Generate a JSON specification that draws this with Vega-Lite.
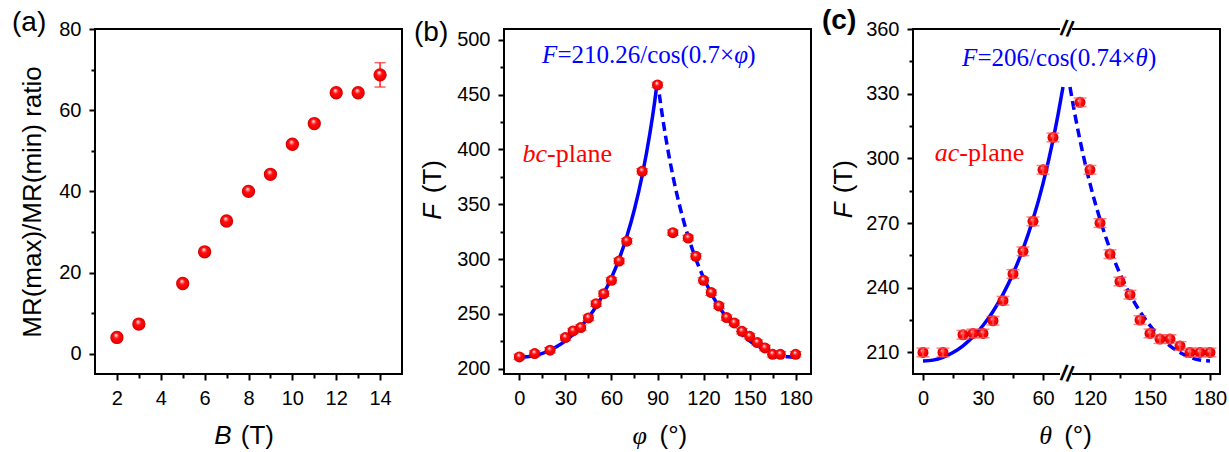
{
  "$schema": "https://vega.github.io/schema/vega-lite/v6.json",
  "background": "white",
  "padding": {"left": 11, "top": 5, "right": 5, "bottom": 5},
  "autosize": {"type": "pad"},
  "spacing": 102,
  "bounds": "flush",
  "datasets": {
    "a_pts": [
      {"B": 2, "R": 4.0, "err": 0}, {"B": 3, "R": 7.3, "err": 0}, {"B": 5, "R": 17.3, "err": 0},
      {"B": 6, "R": 25.1, "err": 0}, {"B": 7, "R": 32.7, "err": 0}, {"B": 8, "R": 40.0, "err": 0},
      {"B": 9, "R": 44.2, "err": 0}, {"B": 10, "R": 51.6, "err": 0}, {"B": 11, "R": 56.7, "err": 0},
      {"B": 12, "R": 64.3, "err": 0}, {"B": 13, "R": 64.3, "err": 0}, {"B": 14, "R": 68.7, "err": 3}
    ],
    "b_pts": [
      {"phi": 0, "F": 210.6, "err": 2.5}, {"phi": 10, "F": 213.7, "err": 2.5}, {"phi": 20, "F": 216.7, "err": 2.5},
      {"phi": 30, "F": 228.3, "err": 2.5}, {"phi": 35, "F": 234.3, "err": 2.5}, {"phi": 40, "F": 237.4, "err": 2.5},
      {"phi": 45, "F": 246.2, "err": 2.5}, {"phi": 50, "F": 259.2, "err": 2.5}, {"phi": 55, "F": 268.3, "err": 2.5},
      {"phi": 60, "F": 280.5, "err": 2.5}, {"phi": 65, "F": 298.1, "err": 2.5}, {"phi": 70, "F": 316.3, "err": 2.5},
      {"phi": 80, "F": 380.1, "err": 2.5}, {"phi": 90, "F": 458.9, "err": 2.5}, {"phi": 100, "F": 324.0, "err": 2.5},
      {"phi": 110, "F": 319.1, "err": 2.5}, {"phi": 115, "F": 302.4, "err": 2.5}, {"phi": 120, "F": 280.5, "err": 2.5},
      {"phi": 125, "F": 269.3, "err": 2.5}, {"phi": 130, "F": 257.1, "err": 2.5}, {"phi": 135, "F": 246.5, "err": 2.5},
      {"phi": 140, "F": 241.6, "err": 2.5}, {"phi": 145, "F": 234.0, "err": 2.5}, {"phi": 150, "F": 229.4, "err": 2.5},
      {"phi": 155, "F": 223.7, "err": 2.5}, {"phi": 160, "F": 218.8, "err": 2.5}, {"phi": 165, "F": 213.0, "err": 2.5},
      {"phi": 170, "F": 213.0, "err": 2.5}, {"phi": 180, "F": 213.0, "err": 2.5}
    ],
    "b_fit_l": [
      {"phi": 0, "F": 210.26}, {"phi": 5, "F": 210.65}, {"phi": 10, "F": 211.84}, {"phi": 15, "F": 213.84},
      {"phi": 20, "F": 216.70}, {"phi": 25, "F": 220.46}, {"phi": 30, "F": 225.22}, {"phi": 35, "F": 231.07},
      {"phi": 40, "F": 238.13}, {"phi": 45, "F": 246.60}, {"phi": 50, "F": 256.68}, {"phi": 55, "F": 268.66},
      {"phi": 60, "F": 282.93}, {"phi": 65, "F": 299.98}, {"phi": 70, "F": 320.49}, {"phi": 75, "F": 345.39},
      {"phi": 80, "F": 376.01}, {"phi": 85, "F": 414.28}, {"phi": 88, "F": 442.07}, {"phi": 90, "F": 463.14}
    ],
    "b_fit_r": [
      {"phi": 90, "F": 463.14}, {"phi": 92, "F": 442.07}, {"phi": 95, "F": 414.28}, {"phi": 100, "F": 376.01},
      {"phi": 105, "F": 345.39}, {"phi": 110, "F": 320.49}, {"phi": 115, "F": 299.98}, {"phi": 120, "F": 282.93},
      {"phi": 125, "F": 268.66}, {"phi": 130, "F": 256.68}, {"phi": 135, "F": 246.60}, {"phi": 140, "F": 238.13},
      {"phi": 145, "F": 231.07}, {"phi": 150, "F": 225.22}, {"phi": 155, "F": 220.46}, {"phi": 160, "F": 216.70},
      {"phi": 165, "F": 213.84}, {"phi": 170, "F": 211.84}, {"phi": 175, "F": 210.65}, {"phi": 180, "F": 210.26}
    ],
    "c_pts": [
      {"theta": 0, "F": 210.0, "err": 2}, {"theta": 10, "F": 210.0, "err": 2}, {"theta": 20, "F": 218.2, "err": 2},
      {"theta": 25, "F": 218.8, "err": 2}, {"theta": 30, "F": 218.8, "err": 2}, {"theta": 35, "F": 224.7, "err": 2},
      {"theta": 40, "F": 234.0, "err": 2}, {"theta": 45, "F": 246.4, "err": 2}, {"theta": 50, "F": 256.9, "err": 2},
      {"theta": 55, "F": 270.8, "err": 2}, {"theta": 60, "F": 294.7, "err": 2}, {"theta": 65, "F": 309.7, "err": 2},
      {"theta": 115, "F": 326.0, "err": 2}, {"theta": 120, "F": 294.7, "err": 2}, {"theta": 125, "F": 270.0, "err": 2},
      {"theta": 130, "F": 255.6, "err": 2}, {"theta": 135, "F": 242.9, "err": 2}, {"theta": 140, "F": 236.8, "err": 2},
      {"theta": 145, "F": 225.0, "err": 2}, {"theta": 150, "F": 218.8, "err": 2}, {"theta": 155, "F": 216.2, "err": 2},
      {"theta": 160, "F": 216.2, "err": 2}, {"theta": 165, "F": 213.0, "err": 2}, {"theta": 170, "F": 210.0, "err": 2},
      {"theta": 175, "F": 210.0, "err": 2}, {"theta": 180, "F": 210.0, "err": 2}
    ],
    "c_fit_l": [
      {"theta": 0, "F": 206.0}, {"theta": 5, "F": 206.43}, {"theta": 10, "F": 207.73}, {"theta": 15, "F": 209.93},
      {"theta": 20, "F": 213.07}, {"theta": 25, "F": 217.23}, {"theta": 30, "F": 222.49}, {"theta": 35, "F": 229.0},
      {"theta": 40, "F": 236.92}, {"theta": 45, "F": 246.47}, {"theta": 50, "F": 257.94}, {"theta": 55, "F": 271.72},
      {"theta": 60, "F": 288.32}, {"theta": 65, "F": 308.46}, {"theta": 67.5, "F": 320.16}, {"theta": 70, "F": 333.11}
    ],
    "c_fit_r": [
      {"theta": 110, "F": 333.11}, {"theta": 112.5, "F": 320.16}, {"theta": 115, "F": 308.46}, {"theta": 120, "F": 288.32},
      {"theta": 125, "F": 271.72}, {"theta": 130, "F": 257.94}, {"theta": 135, "F": 246.47}, {"theta": 140, "F": 236.92},
      {"theta": 145, "F": 229.0}, {"theta": 150, "F": 222.49}, {"theta": 155, "F": 217.23}, {"theta": 160, "F": 213.07},
      {"theta": 165, "F": 209.93}, {"theta": 170, "F": 207.73}, {"theta": 175, "F": 206.43}, {"theta": 180, "F": 206.0}
    ]
  },
  "hconcat": [
    {
      "width": 307, "height": 345,
      "title": {"text": "(a)", "anchor": "start", "frame": "group", "orient": "top", "offset": 0, "dx": -83, "dy": 40, "fontSize": 28, "fontWeight": "normal", "font": "Liberation Sans", "baseline": "alphabetic", "color": "black"},
      "data": {"name": "a_pts"},
      "layer": [
        {
          "transform": [{"filter": "datum.err > 0"}],
          "mark": {"type": "errorbar", "ticks": true, "size": 11, "thickness": 1.5, "color": "#ff2020"},
          "encoding": {
            "x": {"field": "B", "type": "quantitative", "scale": {"domain": [1, 15], "nice": false, "zero": false},
              "axis": {"orient": "bottom", "values": [3, 5, 7, 9, 11, 13], "tickSize": 4, "labels": false, "title": "(T)", "titleX": 145.3, "titleY": 69, "titleAlign": "left", "titleBaseline": "alphabetic", "titleAngle": 0}},
            "y": {"field": "R", "type": "quantitative", "scale": {"domain": [-5, 80], "nice": false, "zero": false},
              "axis": {"orient": "left", "values": [10, 30, 50, 70], "tickSize": 4, "labels": false, "title": null}},
            "yError": {"field": "err"}
          }
        },
        {
          "mark": {"type": "point", "filled": true, "shape": "circle", "size": 177, "opacity": 1, "strokeWidth": 0,
            "fill": {"gradient": "radial", "x1": 0.42, "y1": 0.3, "r1": 0, "x2": 0.5, "y2": 0.5, "r2": 0.5,
              "stops": [{"offset": 0, "color": "#ffffff"}, {"offset": 0.18, "color": "#ff9a9a"}, {"offset": 0.4, "color": "#ff1010"}, {"offset": 0.85, "color": "#f00000"}, {"offset": 1, "color": "#c00000"}]}},
          "encoding": {
            "x": {"field": "B", "type": "quantitative", "scale": {"domain": [1, 15], "nice": false, "zero": false},
              "axis": {"orient": "bottom", "values": [2, 4, 6, 8, 10, 12, 14], "tickSize": 6, "labelPadding": 8, "labelFlush": false, "labelOverlap": false, "title": "B", "titleFontStyle": "italic", "titleX": 118.7, "titleY": 69, "titleAlign": "left", "titleBaseline": "alphabetic", "titleAngle": 0}},
            "y": {"field": "R", "type": "quantitative", "scale": {"domain": [-5, 80], "nice": false, "zero": false},
              "axis": {"orient": "left", "values": [0, 20, 40, 60, 80], "tickSize": 6, "labelPadding": 8, "labelOverlap": false, "title": "MR(max)/MR(min) ratio", "titleX": -55, "titleY": 172.5, "titleAngle": 270, "titleAlign": "center", "titleBaseline": "alphabetic"}}
          }
        }
      ],
      "resolve": {"axis": {"x": "independent", "y": "independent"}}
    },
    {
      "width": 307, "height": 345,
      "title": {"text": "(b)", "anchor": "start", "frame": "group", "orient": "top", "offset": 0, "dx": -90, "dy": 40, "fontSize": 28, "fontWeight": "normal", "font": "Liberation Sans", "baseline": "alphabetic", "color": "black"},
      "layer": [
        {
          "data": {"name": "b_fit_l"},
          "mark": {"type": "line", "color": "#0000ff", "strokeWidth": 3.5, "interpolate": "monotone", "clip": true},
          "encoding": {
            "x": {"field": "phi", "type": "quantitative", "scale": {"domain": [-10, 190], "nice": false, "zero": false}, "axis": null},
            "y": {"field": "F", "type": "quantitative", "scale": {"domain": [195, 510], "nice": false, "zero": false}, "axis": null}
          }
        },
        {
          "data": {"name": "b_fit_r"},
          "mark": {"type": "line", "color": "#0000ff", "strokeWidth": 3.5, "strokeDash": [9, 5], "interpolate": "monotone", "clip": true},
          "encoding": {
            "x": {"field": "phi", "type": "quantitative", "axis": null},
            "y": {"field": "F", "type": "quantitative", "axis": null}
          }
        },
        {
          "data": {"name": "b_pts"},
          "mark": {"type": "errorbar", "ticks": true, "size": 12, "thickness": 1, "color": "#ff2020"},
          "encoding": {
            "x": {"field": "phi", "type": "quantitative", "scale": {"domain": [-10, 190], "nice": false, "zero": false},
              "axis": {"orient": "bottom", "values": [15, 45, 75, 105, 135, 165], "tickSize": 4, "labels": false, "title": "(°)", "titleX": 155, "titleY": 69, "titleAlign": "left", "titleBaseline": "alphabetic", "titleAngle": 0}},
            "y": {"field": "F", "type": "quantitative", "scale": {"domain": [195, 510], "nice": false, "zero": false},
              "axis": {"orient": "left", "values": [225, 275, 325, 375, 425, 475], "tickSize": 4, "labels": false, "title": "(T)", "titleX": -64, "titleY": 163.7, "titleAngle": 270, "titleAlign": "left", "titleBaseline": "alphabetic"}},
            "yError": {"field": "err"}
          }
        },
        {
          "data": {"name": "b_pts"},
          "mark": {"type": "point", "filled": true, "shape": "circle", "size": 121, "opacity": 1, "strokeWidth": 0,
            "fill": {"gradient": "radial", "x1": 0.42, "y1": 0.3, "r1": 0, "x2": 0.5, "y2": 0.5, "r2": 0.5,
              "stops": [{"offset": 0, "color": "#ffffff"}, {"offset": 0.18, "color": "#ff9a9a"}, {"offset": 0.4, "color": "#ff1010"}, {"offset": 0.85, "color": "#f00000"}, {"offset": 1, "color": "#c00000"}]}},
          "encoding": {
            "x": {"field": "phi", "type": "quantitative", "scale": {"domain": [-10, 190], "nice": false, "zero": false},
              "axis": {"orient": "bottom", "values": [0, 30, 60, 90, 120, 150, 180], "tickSize": 6, "labelPadding": 8, "labelFlush": false, "labelOverlap": false, "title": "φ", "titleFont": "Liberation Serif", "titleFontStyle": "italic", "titleX": 128, "titleY": 69, "titleAlign": "left", "titleBaseline": "alphabetic", "titleAngle": 0}},
            "y": {"field": "F", "type": "quantitative", "scale": {"domain": [195, 510], "nice": false, "zero": false},
              "axis": {"orient": "left", "values": [200, 250, 300, 350, 400, 450, 500], "tickSize": 6, "labelPadding": 8, "labelOverlap": false, "title": "F", "titleFontStyle": "italic", "titleX": -64, "titleY": 190.3, "titleAngle": 270, "titleAlign": "left", "titleBaseline": "alphabetic"}}
          }
        },
        {
          "data": {"values": [{}]},
          "mark": {"type": "text", "text": "F", "font": "Liberation Serif", "fontSize": 25, "fontStyle": "italic", "color": "#0000ff", "align": "left", "baseline": "alphabetic", "dx": 0},
          "encoding": {"x": {"datum": 14.7, "type": "quantitative", "axis": null}, "y": {"datum": 479.2, "type": "quantitative", "axis": null}}
        },
        {
          "data": {"values": [{}]},
          "mark": {"type": "text", "text": "=210.26/cos(0.7×", "font": "Liberation Serif", "fontSize": 25, "color": "#0000ff", "align": "left", "baseline": "alphabetic", "dx": 15.5},
          "encoding": {"x": {"datum": 14.7, "type": "quantitative", "axis": null}, "y": {"datum": 479.2, "type": "quantitative", "axis": null}}
        },
        {
          "data": {"values": [{}]},
          "mark": {"type": "text", "text": "φ", "font": "Liberation Serif", "fontSize": 25, "fontStyle": "italic", "color": "#0000ff", "align": "left", "baseline": "alphabetic", "dx": 192.3},
          "encoding": {"x": {"datum": 14.7, "type": "quantitative", "axis": null}, "y": {"datum": 479.2, "type": "quantitative", "axis": null}}
        },
        {
          "data": {"values": [{}]},
          "mark": {"type": "text", "text": ")", "font": "Liberation Serif", "fontSize": 25, "color": "#0000ff", "align": "left", "baseline": "alphabetic", "dx": 205.3},
          "encoding": {"x": {"datum": 14.7, "type": "quantitative", "axis": null}, "y": {"datum": 479.2, "type": "quantitative", "axis": null}}
        },
        {
          "data": {"values": [{}]},
          "mark": {"type": "text", "text": "bc", "font": "Liberation Serif", "fontSize": 26, "fontStyle": "italic", "color": "#ff0000", "align": "left", "baseline": "alphabetic", "dx": 0},
          "encoding": {"x": {"datum": 2.1, "type": "quantitative", "axis": null}, "y": {"datum": 388.8, "type": "quantitative", "axis": null}}
        },
        {
          "data": {"values": [{}]},
          "mark": {"type": "text", "text": "-plane", "font": "Liberation Serif", "fontSize": 26, "color": "#ff0000", "align": "left", "baseline": "alphabetic", "dx": 24.5},
          "encoding": {"x": {"datum": 2.1, "type": "quantitative", "axis": null}, "y": {"datum": 388.8, "type": "quantitative", "axis": null}}
        }
      ],
      "resolve": {"axis": {"x": "independent", "y": "independent"}}
    },
    {
      "width": 307, "height": 345,
      "title": {"text": "(c)", "anchor": "start", "frame": "group", "orient": "top", "offset": 0, "dx": -91, "dy": 40, "fontSize": 28, "fontWeight": "bold", "font": "Liberation Sans", "baseline": "alphabetic", "color": "black"},
      "layer": [
        {
          "data": {"name": "c_fit_l"},
          "mark": {"type": "line", "color": "#0000ff", "strokeWidth": 3.5, "interpolate": "monotone", "clip": true},
          "encoding": {
            "x": {"field": "theta", "type": "quantitative", "scale": {"domain": [-5, 72, 108.5, 185], "range": [0, 154, 154, 307], "nice": false, "zero": false}, "axis": null},
            "y": {"field": "F", "type": "quantitative", "scale": {"domain": [200, 360], "nice": false, "zero": false}, "axis": null}
          }
        },
        {
          "data": {"name": "c_fit_r"},
          "mark": {"type": "line", "color": "#0000ff", "strokeWidth": 3.5, "strokeDash": [9, 5], "interpolate": "monotone", "clip": true},
          "encoding": {
            "x": {"field": "theta", "type": "quantitative", "axis": null},
            "y": {"field": "F", "type": "quantitative", "axis": null}
          }
        },
        {
          "data": {"name": "c_pts"},
          "mark": {"type": "point", "filled": true, "shape": "circle", "size": 121, "opacity": 1, "strokeWidth": 0,
            "fill": {"gradient": "radial", "x1": 0.42, "y1": 0.3, "r1": 0, "x2": 0.5, "y2": 0.5, "r2": 0.5,
              "stops": [{"offset": 0, "color": "#ffffff"}, {"offset": 0.18, "color": "#ff9a9a"}, {"offset": 0.4, "color": "#ff1010"}, {"offset": 0.85, "color": "#f00000"}, {"offset": 1, "color": "#c00000"}]}},
          "encoding": {
            "x": {"field": "theta", "type": "quantitative", "scale": {"domain": [-5, 72, 108.5, 185], "range": [0, 154, 154, 307], "nice": false, "zero": false},
              "axis": {"orient": "bottom", "values": [0, 30, 60, 120, 150, 180], "tickSize": 6, "labelPadding": 8, "labelFlush": false, "labelOverlap": false, "title": "θ", "titleFont": "Liberation Serif", "titleFontStyle": "italic", "titleX": 125.7, "titleY": 69, "titleAlign": "left", "titleBaseline": "alphabetic", "titleAngle": 0}},
            "y": {"field": "F", "type": "quantitative", "scale": {"domain": [200, 360], "nice": false, "zero": false},
              "axis": {"orient": "left", "values": [210, 240, 270, 300, 330, 360], "tickSize": 6, "labelPadding": 8, "labelOverlap": false, "title": "F", "titleFontStyle": "italic", "titleX": -62, "titleY": 188.7, "titleAngle": 270, "titleAlign": "left", "titleBaseline": "alphabetic"}}
          }
        },
        {
          "data": {"name": "c_pts"},
          "mark": {"type": "errorbar", "ticks": true, "size": 13, "thickness": 1.5, "color": "#ff5050"},
          "encoding": {
            "x": {"field": "theta", "type": "quantitative", "scale": {"domain": [-5, 72, 108.5, 185], "range": [0, 154, 154, 307], "nice": false, "zero": false},
              "axis": {"orient": "bottom", "values": [15, 45, 135, 165], "tickSize": 4, "labels": false, "title": "(°)", "titleX": 150.7, "titleY": 69, "titleAlign": "left", "titleBaseline": "alphabetic", "titleAngle": 0}},
            "y": {"field": "F", "type": "quantitative", "scale": {"domain": [200, 360], "nice": false, "zero": false},
              "axis": {"orient": "left", "values": [225, 255, 285, 315, 345], "tickSize": 4, "labels": false, "title": "(T)", "titleX": -62, "titleY": 163.7, "titleAngle": 270, "titleAlign": "left", "titleBaseline": "alphabetic"}},
            "yError": {"field": "err"}
          }
        },
        {
          "data": {"values": [{}]},
          "mark": {"type": "rect", "color": "white", "clip": false},
          "encoding": {"x": {"datum": 68.5, "type": "quantitative", "axis": null}, "x2": {"datum": 111}, "y": {"datum": 358.6, "type": "quantitative", "axis": null}, "y2": {"datum": 361.4}}
        },
        {
          "data": {"values": [{}]},
          "mark": {"type": "rect", "color": "white", "clip": false},
          "encoding": {"x": {"datum": 68.5, "type": "quantitative", "axis": null}, "x2": {"datum": 111}, "y": {"datum": 198.6, "type": "quantitative", "axis": null}, "y2": {"datum": 201.4}}
        },
        {
          "data": {"values": [{}]},
          "mark": {"type": "text", "text": "//", "font": "Liberation Sans", "fontSize": 22, "fontWeight": "bold", "angle": 12, "color": "black", "align": "center", "baseline": "middle"},
          "encoding": {"x": {"datum": 90, "type": "quantitative", "axis": null}, "y": {"datum": 360, "type": "quantitative", "axis": null}}
        },
        {
          "data": {"values": [{}]},
          "mark": {"type": "text", "text": "//", "font": "Liberation Sans", "fontSize": 22, "fontWeight": "bold", "angle": 12, "color": "black", "align": "center", "baseline": "middle"},
          "encoding": {"x": {"datum": 90, "type": "quantitative", "axis": null}, "y": {"datum": 200, "type": "quantitative", "axis": null}}
        },
        {
          "data": {"values": [{}]},
          "mark": {"type": "text", "text": "F", "font": "Liberation Serif", "fontSize": 25, "fontStyle": "italic", "color": "#0000ff", "align": "left", "baseline": "alphabetic", "dx": 0},
          "encoding": {"x": {"datum": 19.5, "type": "quantitative", "axis": null}, "y": {"datum": 342.9, "type": "quantitative", "axis": null}}
        },
        {
          "data": {"values": [{}]},
          "mark": {"type": "text", "text": "=206/cos(0.74×", "font": "Liberation Serif", "fontSize": 25, "color": "#0000ff", "align": "left", "baseline": "alphabetic", "dx": 15.5},
          "encoding": {"x": {"datum": 19.5, "type": "quantitative", "axis": null}, "y": {"datum": 342.9, "type": "quantitative", "axis": null}}
        },
        {
          "data": {"values": [{}]},
          "mark": {"type": "text", "text": "θ", "font": "Liberation Serif", "fontSize": 25, "fontStyle": "italic", "color": "#0000ff", "align": "left", "baseline": "alphabetic", "dx": 173.5},
          "encoding": {"x": {"datum": 19.5, "type": "quantitative", "axis": null}, "y": {"datum": 342.9, "type": "quantitative", "axis": null}}
        },
        {
          "data": {"values": [{}]},
          "mark": {"type": "text", "text": ")", "font": "Liberation Serif", "fontSize": 25, "color": "#0000ff", "align": "left", "baseline": "alphabetic", "dx": 186},
          "encoding": {"x": {"datum": 19.5, "type": "quantitative", "axis": null}, "y": {"datum": 342.9, "type": "quantitative", "axis": null}}
        },
        {
          "data": {"values": [{}]},
          "mark": {"type": "text", "text": "ac", "font": "Liberation Serif", "fontSize": 26, "fontStyle": "italic", "color": "#ff0000", "align": "left", "baseline": "alphabetic", "dx": 0},
          "encoding": {"x": {"datum": 5.9, "type": "quantitative", "axis": null}, "y": {"datum": 298.8, "type": "quantitative", "axis": null}}
        },
        {
          "data": {"values": [{}]},
          "mark": {"type": "text", "text": "-plane", "font": "Liberation Serif", "fontSize": 26, "color": "#ff0000", "align": "left", "baseline": "alphabetic", "dx": 24.5},
          "encoding": {"x": {"datum": 5.9, "type": "quantitative", "axis": null}, "y": {"datum": 298.8, "type": "quantitative", "axis": null}}
        }
      ],
      "resolve": {"axis": {"x": "independent", "y": "independent"}}
    }
  ],
  "config": {
    "font": "Liberation Sans",
    "view": {"stroke": "black", "strokeWidth": 2},
    "axis": {"domain": false, "grid": false, "ticks": true, "tickColor": "black", "tickWidth": 2, "labelFont": "Liberation Sans", "labelFontSize": 20, "labelColor": "black", "titleFont": "Liberation Sans", "titleFontSize": 26, "titleColor": "black", "titleFontWeight": "normal"}
  }
}
